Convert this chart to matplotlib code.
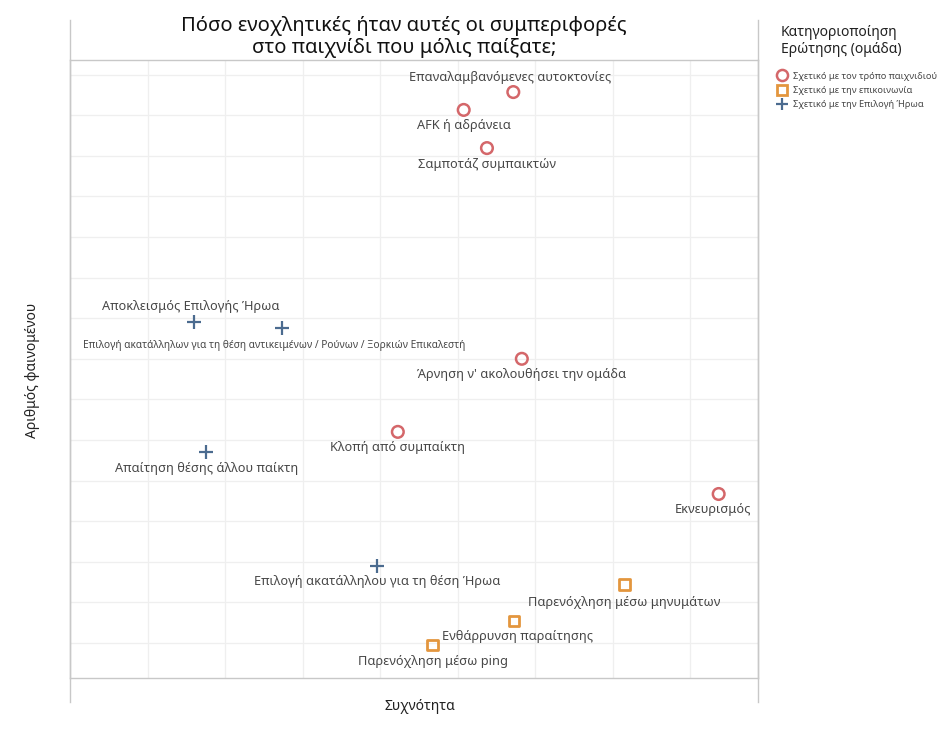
import matplotlib.pyplot as plt
from matplotlib.lines import Line2D

plt.rcParams['font.family'] = ['Noto Sans', 'DejaVu Sans']

# data (frequency, count), in grid units
gameplay_labels = ['Επαναλαμβανόμενες αυτοκτονίες', 'AFK ή αδράνεια', 'Σαμποτάζ συμπαικτών',
                   "Άρνηση ν' ακολουθήσει την ομάδα", 'Κλοπή από συμπαίκτη', 'Εκνευρισμός']
gameplay_x = [5.72, 5.08, 5.38, 5.83, 4.23, 8.37]
gameplay_y = [13.57, 13.13, 12.19, 7.0, 5.2, 3.67]

comm_labels = ['Παρενόχληση μέσω μηνυμάτων', 'Ενθάρρυνση παραίτησης', 'Παρενόχληση μέσω ping']
comm_x = [7.15, 5.73, 4.68]
comm_y = [1.45, 0.54, -0.05]

hero_labels = ['Αποκλεισμός Επιλογής Ήρωα',
               'Επιλογή ακατάλληλων για τη θέση αντικειμένων / Ρούνων / Ξορκιών Επικαλεστή',
               'Απαίτηση θέσης άλλου παίκτη', 'Επιλογή ακατάλληλου για τη θέση Ήρωα']
hero_x = [1.6, 2.74, 1.76, 3.96]
hero_y = [7.91, 7.76, 4.7, 1.9]

legend_names = ['Σχετικό με τον τρόπο παιχνιδιού', 'Σχετικό με την επικοινωνία',
                'Σχετικό με την Επιλογή Ήρωα']

# label offsets in pixels (dx, dy) relative to the mark
offsets = {
    'Επαναλαμβανόμενες αυτοκτονίες': (-3, 15),
    'Αποκλεισμός Επιλογής Ήρωα': (-3, 15),
    'Επιλογή ακατάλληλων για τη θέση αντικειμένων / Ρούνων / Ξορκιών Επικαλεστή': (-8, -18),
    'Εκνευρισμός': (-6, -16),
    'Παρενόχληση μέσω μηνυμάτων': (0, -18),
    'Ενθάρρυνση παραίτησης': (3, -15),
}

red = '#d4676a'
orange = '#e3963e'
blue = '#4b6b8f'
grid_c = '#efefef'
border_c = '#c8c8c8'
txt_c = '#474747'

fig = plt.figure(figsize=(9.38, 7.41), dpi=100)
ax = fig.add_axes([70/938, 1-678/741, 688/938, 618/741])
ax.set_xlim(0, 688/77.5)
ax.set_ylim(-35/40.6, 583/40.6)
ax.set_xticks(range(1, 9))
ax.set_yticks(range(0, 15))
ax.tick_params(length=0, labelbottom=False, labelleft=False)
ax.grid(True, color=grid_c, linewidth=0.9)
ax.set_axisbelow(True)
for s in ax.spines.values():
    s.set_color(border_c)
    s.set_linewidth(1)

ax.scatter(gameplay_x, gameplay_y, s=70, marker='o', facecolors='none',
           edgecolors=red, linewidths=1.8, zorder=3)
ax.scatter(comm_x, comm_y, s=60, marker='s', facecolors='none',
           edgecolors=orange, linewidths=2, zorder=3)
ax.scatter(hero_x, hero_y, s=90, marker='+', color=blue, linewidths=1.6, zorder=3)

for labels, xs, ys in [(gameplay_labels, gameplay_x, gameplay_y),
                       (comm_labels, comm_x, comm_y),
                       (hero_labels, hero_x, hero_y)]:
    for lab, x, y in zip(labels, xs, ys):
        dx, dy = offsets.get(lab, (0, -16))
        fs = 7.3 if len(lab) > 40 else 9.2
        t = ax.annotate(lab, (x, y), xytext=(dx, dy), textcoords='offset pixels',
                        ha='center', va='center', fontsize=fs, color=txt_c)
        t.set_clip_on(True)

# vertical border lines extend past the plot area
for xp in [70, 758]:
    fig.add_artist(Line2D([xp/938, xp/938], [1-20/741, 1-702/741],
                          color=border_c, linewidth=1))

fig.text(404/938, 1-37/741, 'Πόσο ενοχλητικές ήταν αυτές οι συμπεριφορές\nστο παιχνίδι που μόλις παίξατε;',
         ha='center', va='center', fontsize=14.5, color='#111111', linespacing=1.12)
fig.text(33/938, 1-370/741, 'Αριθμός φαινομένου', rotation=90, ha='center', va='center',
         fontsize=10, color='#222222')
fig.text(420/938, 1-707/741, 'Συχνότητα', ha='center', va='center', fontsize=10, color='#222222')

# legend
fig.text(781/938, 1-41/741, 'Κατηγοριοποίηση\nΕρώτησης (ομάδα)', ha='left', va='center',
         fontsize=10, color='#222222', linespacing=1.25)
handles = [Line2D([], [], marker='o', linestyle='none', markerfacecolor='none',
                  markeredgecolor=red, markeredgewidth=1.8, markersize=8),
           Line2D([], [], marker='s', linestyle='none', markerfacecolor='none',
                  markeredgecolor=orange, markeredgewidth=2, markersize=7),
           Line2D([], [], marker='+', linestyle='none', color=blue,
                  markeredgewidth=1.6, markersize=9)]
fig.legend(handles, legend_names, loc='upper left', bbox_to_anchor=(774/938, 1-67/741),
           frameon=False, fontsize=6.7, handlelength=0.8, handletextpad=0.7,
           labelspacing=0.55, borderpad=0, labelcolor=txt_c)

fig.savefig('out.png', dpi=100)
